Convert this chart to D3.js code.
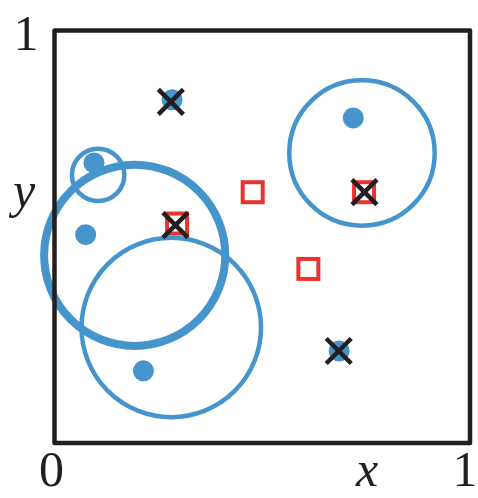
<!DOCTYPE html>
<html>
<head>
<meta charset="utf-8">
<script src="https://cdn.jsdelivr.net/npm/d3@7"></script>
<style>
  html, body { margin: 0; padding: 0; background: #fff; }
  svg { display: block; }
  text { font-family: "Liberation Serif", "DejaVu Serif", serif; fill: #231f20; }
</style>
</head>
<body>
<svg id="chart" width="478" height="498"></svg>
<script>
// Sample points (blue dots)
const dotX = [0.283, 0.719, 0.095, 0.075, 0.214, 0.685];
const dotY = [0.832, 0.788, 0.679, 0.505, 0.175, 0.223];

// Candidate centres (red hollow squares)
const squareX = [0.295, 0.477, 0.745, 0.611];
const squareY = [0.532, 0.608, 0.608, 0.422];

// Selected points (black crosses)
const crossX = [0.280, 0.291, 0.746, 0.684];
const crossY = [0.827, 0.528, 0.608, 0.223];

// Neighbourhood circles: centre, radius, emphasis
const ringX = [0.105, 0.193, 0.281, 0.740];
const ringY = [0.650, 0.455, 0.280, 0.703];
const ringR = [0.063, 0.218, 0.216, 0.175];
const ringBold = [false, true, false, false];

// Axis end labels
const axisTicks = ["0", "1"];

const blue = "#4594cc", red = "#e8332f", ink = "#231f20";

const svg = d3.select("#chart");
const plotLeft = 54.5, plotRight = 470, plotTop = 30.5, plotBottom = 443;
const x = d3.scaleLinear().domain([0, 1]).range([plotLeft, plotRight]);
const y = d3.scaleLinear().domain([0, 1]).range([plotBottom, plotTop]);

// circles
svg.append("g").selectAll("circle")
  .data(ringX.map((v, i) => ({ x: v, y: ringY[i], r: ringR[i], bold: ringBold[i] })))
  .join("circle")
  .attr("cx", d => x(d.x)).attr("cy", d => y(d.y))
  .attr("r", d => x(d.r) - x(0))
  .attr("fill", "none").attr("stroke", blue)
  .attr("stroke-width", d => d.bold ? 8 : 4.5);

// dots
svg.append("g").selectAll("circle")
  .data(dotX.map((v, i) => ({ x: v, y: dotY[i] })))
  .join("circle")
  .attr("cx", d => x(d.x)).attr("cy", d => y(d.y))
  .attr("r", 10.5).attr("fill", blue);

// squares
const sq = 20;
svg.append("g").selectAll("rect")
  .data(squareX.map((v, i) => ({ x: v, y: squareY[i] })))
  .join("rect")
  .attr("x", d => x(d.x) - sq / 2).attr("y", d => y(d.y) - sq / 2)
  .attr("width", sq).attr("height", sq)
  .attr("fill", "none").attr("stroke", red).attr("stroke-width", 4);

// crosses
const h = 12.5;
svg.append("g").selectAll("path")
  .data(crossX.map((v, i) => ({ x: v, y: crossY[i] })))
  .join("path")
  .attr("d", d => {
    const cx = x(d.x), cy = y(d.y);
    return `M${cx - h},${cy - h}L${cx + h},${cy + h}M${cx - h},${cy + h}L${cx + h},${cy - h}`;
  })
  .attr("fill", "none").attr("stroke", ink).attr("stroke-width", 4.5);

// frame
svg.append("rect")
  .attr("x", x(0)).attr("y", y(1))
  .attr("width", x(1) - x(0)).attr("height", y(0) - y(1))
  .attr("fill", "none").attr("stroke", ink).attr("stroke-width", 4.5)
  .attr("stroke-linejoin", "round");

// labels
const fs = 50;
svg.append("text").attr("x", 26).attr("y", 50).attr("text-anchor", "middle")
  .attr("font-size", fs).text(axisTicks[1]);
svg.append("text").attr("x", 51.5).attr("y", 486).attr("text-anchor", "middle")
  .attr("font-size", fs).text(axisTicks[0]);
svg.append("text").attr("x", 465).attr("y", 486).attr("text-anchor", "middle")
  .attr("font-size", fs).text(axisTicks[1]);
svg.append("text").attr("x", 367).attr("y", 486).attr("text-anchor", "middle")
  .attr("font-size", fs).attr("font-style", "italic").text("x");
svg.append("text").attr("x", 24).attr("y", 207).attr("text-anchor", "middle")
  .attr("font-size", fs).attr("font-style", "italic").text("y");
</script>
</body>
</html>
